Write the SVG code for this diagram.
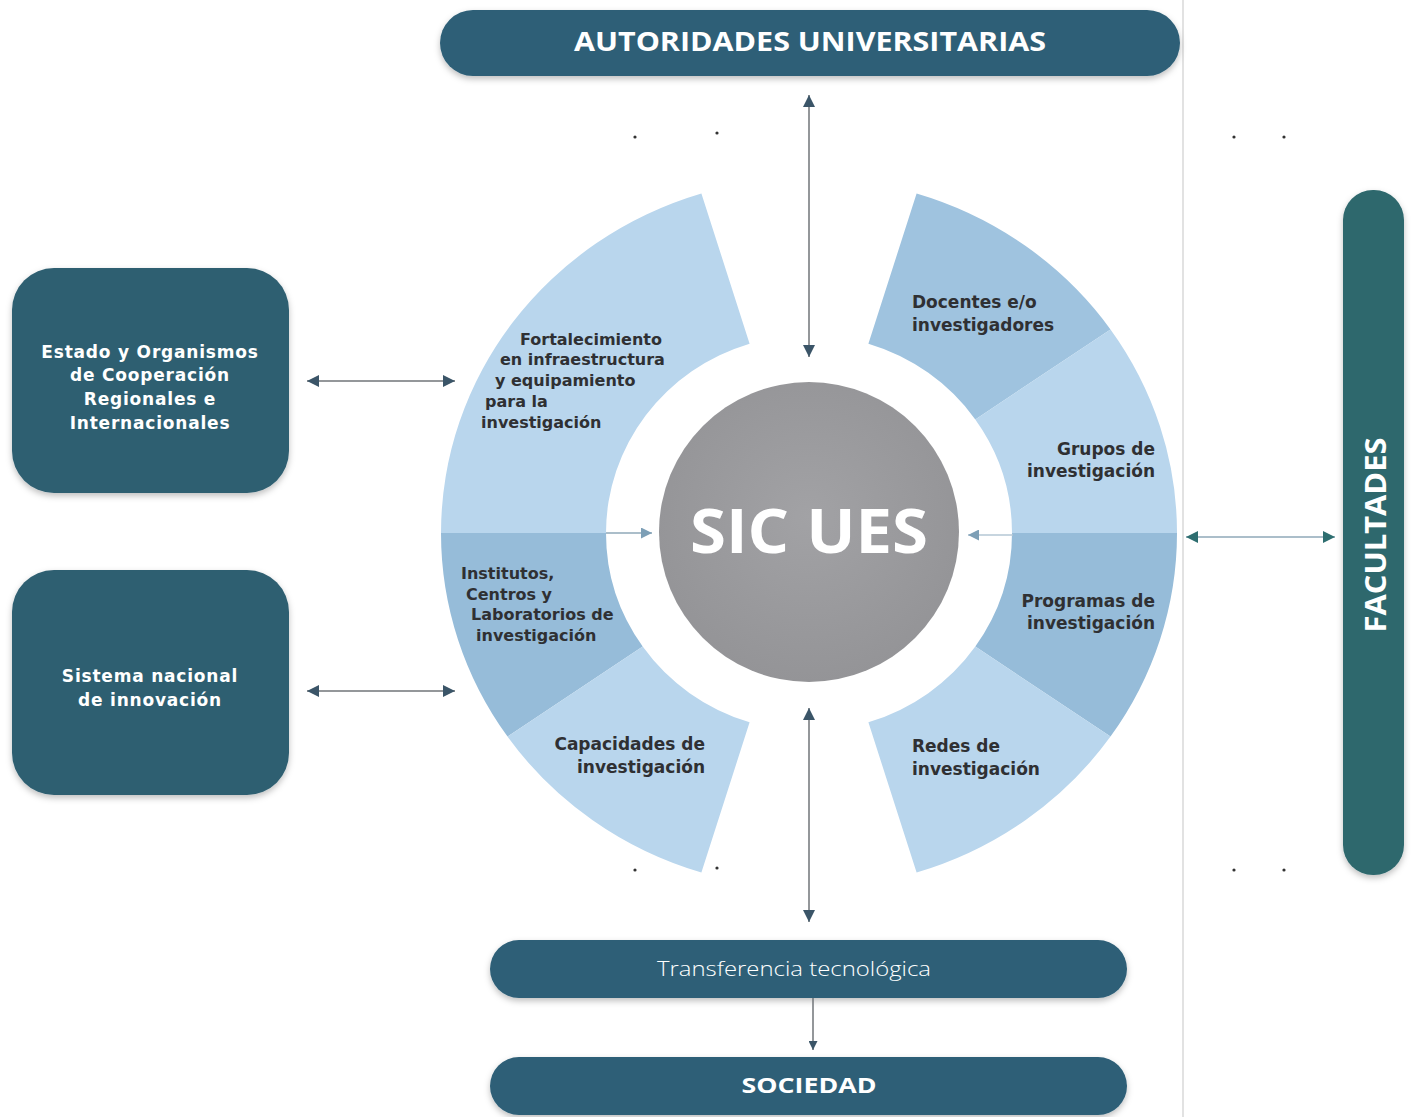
<svg xmlns="http://www.w3.org/2000/svg" width="1414" height="1117" viewBox="0 0 1414 1117">
<defs>
<style>
.bar{fill:#2d5f77;}
.box{fill:#2f5f71;}
.fac{fill:#2e686d;}
.lt{fill:#b9d6ed;}
.dk{fill:#96bcd9;}
.md{fill:#9fc3df;}
.wt{fill:#ffffff;font-family:"Open Sans","Liberation Sans",sans-serif;font-weight:700;}
.bx{fill:#ffffff;font-family:"DejaVu Sans","Liberation Sans",sans-serif;font-weight:700;font-size:17px;letter-spacing:0.8px;text-anchor:middle;}
.seg{fill:#2f3033;font-family:"DejaVu Sans","Liberation Sans",sans-serif;font-weight:700;font-size:17px;}
.sm{font-size:16px;}
.ln{stroke:#707579;stroke-width:1.5;fill:none;}
.lnt{stroke:#8fa9b8;stroke-width:1.5;fill:none;}
.dot{fill:#333;}
</style>
<marker id="ah" viewBox="0 0 10 10" refX="10" refY="5" markerWidth="9" markerHeight="9" markerUnits="userSpaceOnUse" orient="auto-start-reverse">
<path d="M0,0 L10,5 L0,10 Z" fill="#3b5568"/>
</marker>
<marker id="aht" viewBox="0 0 10 10" refX="10" refY="5" markerWidth="12" markerHeight="12" markerUnits="userSpaceOnUse" orient="auto-start-reverse">
<path d="M0,0 L10,5 L0,10 Z" fill="#2e6e70"/>
</marker>
<marker id="ahl" viewBox="0 0 10 10" refX="10" refY="5" markerWidth="11" markerHeight="11" markerUnits="userSpaceOnUse" orient="auto-start-reverse">
<path d="M0,0 L10,5 L0,10 Z" fill="#7d9fb6"/>
</marker>
<marker id="ahm" viewBox="0 0 10 10" refX="10" refY="5" markerWidth="12" markerHeight="12" markerUnits="userSpaceOnUse" orient="auto-start-reverse">
<path d="M0,0 L10,5 L0,10 Z" fill="#3b5568"/>
</marker>
<filter id="sh" x="-10%" y="-20%" width="120%" height="150%">
<feDropShadow dx="0" dy="3" stdDeviation="3" flood-color="#000" flood-opacity="0.25"/>
</filter>
<radialGradient id="gc" cx="50%" cy="45%" r="55%">
<stop offset="0" stop-color="#a2a2a5"/>
<stop offset="1" stop-color="#949497"/>
</radialGradient>
</defs>
<rect width="1414" height="1117" fill="#ffffff"/>
<line x1="1183" y1="0" x2="1183" y2="1117" stroke="#e2e2e2" stroke-width="2"/>

<g id="ring">
<path class="lt" d="M701.4,193.5 A368,355 0 0 0 441,533 L606,533 A203,198 0 0 1 749.6,343.7 Z"/>
<path class="dk" d="M441,533 A368,355 0 0 0 507.5,736.6 L642.7,646.6 A203,198 0 0 1 606,533 Z"/>
<path class="lt" d="M507.5,736.6 A368,355 0 0 0 701.4,872.5 L749.6,722.3 A203,198 0 0 1 642.7,646.6 Z"/>
<path class="md" d="M916.6,193.5 A368,355 0 0 1 1110.5,329.4 L975.3,419.4 A203,198 0 0 0 868.4,343.7 Z"/>
<path class="lt" d="M1110.5,329.4 A368,355 0 0 1 1177,533 L1012,533 A203,198 0 0 0 975.3,419.4 Z"/>
<path class="dk" d="M1177,533 A368,355 0 0 1 1110.5,736.6 L975.3,646.6 A203,198 0 0 0 1012,533 Z"/>
<path class="lt" d="M1110.5,736.6 A368,355 0 0 1 916.6,872.5 L868.4,722.3 A203,198 0 0 0 975.3,646.6 Z"/>
</g>

<g id="seg-fortalecimiento">
<text class="seg sm" x="520" y="345">Fortalecimiento</text>
<text class="seg sm" x="500" y="365">en infraestructura</text>
<text class="seg sm" x="495" y="386">y equipamiento</text>
<text class="seg sm" x="485" y="407">para la</text>
<text class="seg sm" x="481" y="428">investigación</text>
</g>
<g id="seg-institutos">
<text class="seg sm" x="461" y="579">Institutos,</text>
<text class="seg sm" x="466" y="600">Centros y</text>
<text class="seg sm" x="471" y="620">Laboratorios de</text>
<text class="seg sm" x="476" y="641">investigación</text>
</g>
<g id="seg-capacidades">
<text class="seg" x="705" y="750" text-anchor="end">Capacidades de</text>
<text class="seg" x="705" y="773" text-anchor="end">investigación</text>
</g>
<g id="seg-docentes">
<text class="seg" x="912" y="308">Docentes e/o</text>
<text class="seg" x="912" y="331">investigadores</text>
</g>
<g id="seg-grupos">
<text class="seg" x="1155" y="455" text-anchor="end">Grupos de</text>
<text class="seg" x="1155" y="477" text-anchor="end">investigación</text>
</g>
<g id="seg-programas">
<text class="seg" x="1155" y="607" text-anchor="end">Programas de</text>
<text class="seg" x="1155" y="629" text-anchor="end">investigación</text>
</g>
<g id="seg-redes">
<text class="seg" x="912" y="752">Redes de</text>
<text class="seg" x="912" y="775">investigación</text>
</g>

<g id="sic-ues">
<circle cx="809" cy="532" r="150" fill="url(#gc)"/>
<text class="wt" x="809" y="553" font-size="60" text-anchor="middle" textLength="238" lengthAdjust="spacingAndGlyphs">SIC UES</text>
</g>

<g id="autoridades">
<rect class="bar" x="440" y="10" width="740" height="66" rx="33" filter="url(#sh)"/>
<text class="wt" x="810" y="51" font-size="26" text-anchor="middle" textLength="472" lengthAdjust="spacingAndGlyphs">AUTORIDADES UNIVERSITARIAS</text>
</g>

<g id="estado">
<rect class="box" x="12" y="268" width="277" height="225" rx="42" filter="url(#sh)"/>
<text class="bx" x="150" y="358">Estado y Organismos</text>
<text class="bx" x="150" y="381">de Cooperación</text>
<text class="bx" x="150" y="405">Regionales e</text>
<text class="bx" x="150" y="429">Internacionales</text>
</g>

<g id="sistema">
<rect class="box" x="12" y="570" width="277" height="225" rx="42" filter="url(#sh)"/>
<text class="bx" x="150" y="682">Sistema nacional</text>
<text class="bx" x="150" y="706">de innovación</text>
</g>

<g id="facultades">
<rect class="fac" x="1343" y="190" width="61" height="685" rx="30" filter="url(#sh)"/>
<text class="wt" transform="translate(1386,535) rotate(-90)" x="0" y="0" font-size="28" text-anchor="middle" textLength="195" lengthAdjust="spacingAndGlyphs">FACULTADES</text>
</g>

<g id="transferencia">
<rect class="bar" x="490" y="940" width="637" height="58" rx="29" filter="url(#sh)"/>
<text x="794" y="976" fill="#ffffff" font-family="Open Sans, Liberation Sans, sans-serif" font-weight="300" font-size="21" text-anchor="middle" textLength="274" lengthAdjust="spacingAndGlyphs">Transferencia tecnológica</text>
</g>

<g id="sociedad">
<rect class="bar" x="490" y="1057" width="637" height="58" rx="29" filter="url(#sh)"/>
<text class="wt" x="809" y="1093" font-size="22" text-anchor="middle" textLength="135" lengthAdjust="spacingAndGlyphs">SOCIEDAD</text>
</g>

<g id="connectors">
<line class="ln" x1="809" y1="95" x2="809" y2="357" marker-start="url(#ahm)" marker-end="url(#ahm)"/>
<line class="ln" x1="809" y1="708" x2="809" y2="922" marker-start="url(#ahm)" marker-end="url(#ahm)"/>
<line class="ln" x1="813" y1="998" x2="813" y2="1050" marker-end="url(#ah)"/>
<line class="ln" x1="307" y1="381" x2="455" y2="381" marker-start="url(#ahm)" marker-end="url(#ahm)"/>
<line class="ln" x1="307" y1="691" x2="455" y2="691" marker-start="url(#ahm)" marker-end="url(#ahm)"/>
<line class="lnt" x1="1186" y1="537" x2="1335" y2="537" marker-start="url(#aht)" marker-end="url(#aht)"/>
<line class="lnt" x1="606" y1="533" x2="652" y2="533" marker-end="url(#ahl)"/>
<line x1="1013" y1="535" x2="968" y2="535" stroke="#b4c7d4" stroke-width="1.5" marker-end="url(#ahl)"/>
</g>

<g id="marks">
<circle class="dot" cx="635" cy="137" r="1.6"/>
<circle class="dot" cx="717" cy="133" r="1.6"/>
<circle class="dot" cx="1234" cy="137" r="1.6"/>
<circle class="dot" cx="1284" cy="137" r="1.6"/>
<circle class="dot" cx="635" cy="870" r="1.6"/>
<circle class="dot" cx="717" cy="868" r="1.6"/>
<circle class="dot" cx="1234" cy="870" r="1.6"/>
<circle class="dot" cx="1284" cy="870" r="1.6"/>
</g>
</svg>
